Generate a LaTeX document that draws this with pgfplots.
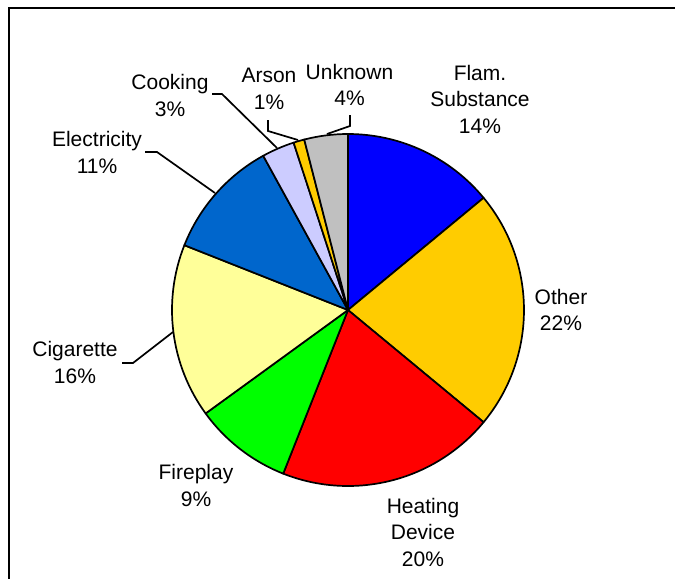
\documentclass[border=0pt]{standalone}
\usepackage{pgfplots}
\usepackage{pgfplotstable}
\pgfplotsset{compat=1.18}
\usepackage{fontspec}
\setmainfont{Liberation Sans}

\definecolor{cflam}{HTML}{0000FF}
\definecolor{cother}{HTML}{FFCC00}
\definecolor{cheat}{HTML}{FF0000}
\definecolor{cfire}{HTML}{00FF00}
\definecolor{ccig}{HTML}{FFFF99}
\definecolor{celec}{HTML}{0066CC}
\definecolor{ccook}{HTML}{CCCCFF}
\definecolor{carson}{HTML}{FFCC00}
\definecolor{cunk}{HTML}{C0C0C0}

\tikzset{lbl/.style={align=center, font=\fontsize{21}{26.5}\selectfont, inner sep=0pt}}

\pgfplotstableread[col sep=comma]{
label,value,color
Flam. Substance,14,cflam
Other,22,cother
Heating Device,20,cheat
Fireplay,9,cfire
Cigarette,16,ccig
Electricity,11,celec
Cooking,3,ccook
Arson,1,carson
Unknown,4,cunk
}\piedata

\begin{document}
\begin{tikzpicture}
\useasboundingbox (0,0) rectangle (675pt,579pt);
\begin{axis}[
  scale only axis, width=675pt, height=579pt,
  xmin=0, xmax=675, ymin=0, ymax=579, y dir=reverse,
  hide axis, clip=false,
]
% frame (top and left edges visible)
\addplot[black, line width=2.2pt] coordinates {(675,8) (9,8) (9,579)};

% pie slices from table values
\pgfplotsextra{
  \xdef\startang{90}
  \pgfplotstablegetrowsof{\piedata}
  \pgfmathtruncatemacro\lastrow{\pgfplotsretval-1}
  \foreach \i in {0,...,\lastrow}{
    \pgfplotstablegetelem{\i}{value}\of\piedata \edef\v{\pgfplotsretval}
    \pgfplotstablegetelem{\i}{color}\of\piedata \edef\c{\pgfplotsretval}
    \pgfmathsetmacro\endang{\startang-3.6*\v}
    \filldraw[fill=\c, draw=black, line width=1.7pt, line join=round]
      (axis cs:348,310) -- ++(\startang:176pt)
      arc[start angle=\startang, end angle=\endang, radius=176pt] -- cycle;
    \xdef\startang{\endang}
  }
}

% leader lines
\addplot[black, line width=1.7pt] coordinates {(145,152) (157,152) (215,193)};
\addplot[black, line width=1.7pt] coordinates {(122,363) (133,363) (173,332)};
\addplot[black, line width=1.7pt] coordinates {(212,94) (222,94) (277,148)};
\addplot[black, line width=1.7pt] coordinates {(268,120) (268,131) (298,140)};
\addplot[black, line width=1.7pt] coordinates {(350,115) (350,126) (327,134)};

% labels
\node[lbl] at (axis cs:480,99) {Flam.\\Substance\\14\%};
\node[lbl] at (axis cs:561,310) {Other\\22\%};
\node[lbl] at (axis cs:423,532) {Heating\\Device\\20\%};
\node[lbl] at (axis cs:196,485.5) {Fireplay\\9\%};
\node[lbl] at (axis cs:75,362.5) {Cigarette\\16\%};
\node[lbl] at (axis cs:97,152.5) {Electricity\\11\%};
\node[lbl] at (axis cs:170,95.5) {Cooking\\3\%};
\node[lbl] at (axis cs:269,89) {Arson\\1\%};
\node[lbl] at (axis cs:349.5,85) {Unknown\\4\%};
\end{axis}
\end{tikzpicture}
\end{document}
